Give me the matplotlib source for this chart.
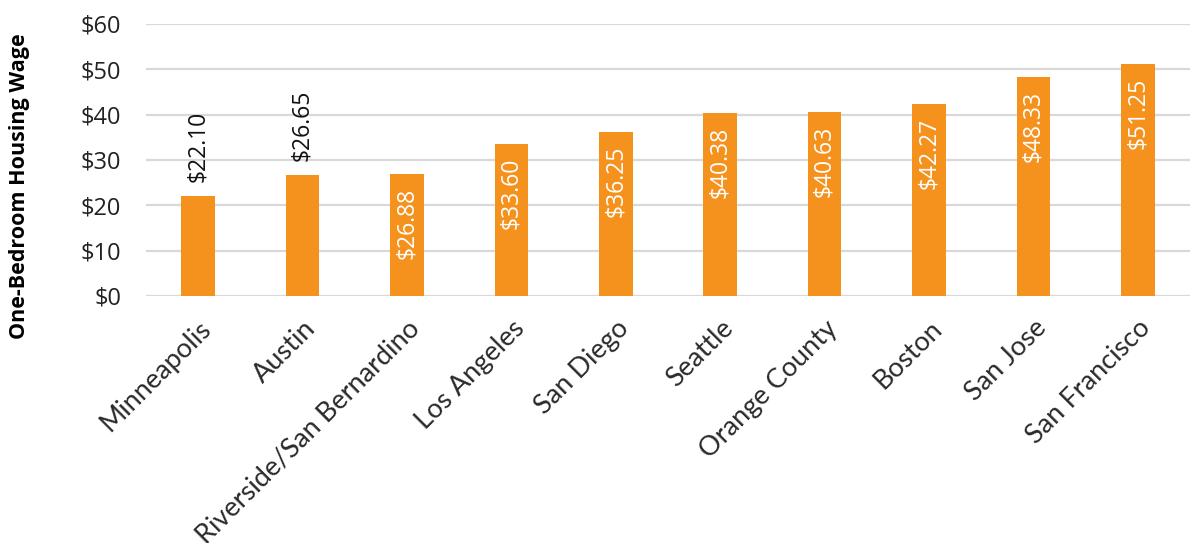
import matplotlib
matplotlib.use("Agg")
import matplotlib.pyplot as plt

cities = ["Minneapolis", "Austin", "Riverside/San Bernardino", "Los Angeles",
          "San Diego", "Seattle", "Orange County", "Boston", "San Jose",
          "San Francisco"]
wages = [22.10, 26.65, 26.88, 33.60, 36.25, 40.38, 40.63, 42.27, 48.33, 51.25]
# Bars whose label sits above the bar instead of inside it
outside_labels = ["Minneapolis", "Austin"]
y_ticks = [0, 10, 20, 30, 40, 50, 60]

bar_color = "#F5921E"
grid_color = "#D9D9D9"
num_font = ["Open Sans", "DejaVu Sans"]

fig = plt.figure(figsize=(11.93, 5.43), dpi=100)
ax = fig.add_axes([146 / 1193, 1 - 296 / 543, (1190 - 146) / 1193, (296 - 24) / 543])

x = range(len(cities))
bars = ax.bar(x, wages, width=0.32, color=bar_color, zorder=3)

ax.set_ylim(0, 60)
ax.set_xlim(-0.5, len(cities) - 0.5)
ax.set_yticks(y_ticks)
ax.set_yticklabels([f"${v}" for v in y_ticks], fontsize=17,
                   family=num_font, color="#222222")
ax.yaxis.grid(True, color=grid_color, linewidth=1.6, zorder=0)
ax.set_axisbelow(True)
for s in ax.spines.values():
    s.set_visible(False)
ax.tick_params(axis="both", length=0)
ax.tick_params(axis="y", pad=18)

ax.set_xticks(list(x))
ax.set_xticklabels(cities, rotation=45, ha="right", va="top",
                   rotation_mode="anchor", fontsize=19.5,
                   family=["Lato", "DejaVu Sans"], color="#2a2a2a")
ax.tick_params(axis="x", pad=14)

ax.set_ylabel("One-Bedroom Housing Wage", fontsize=15.5, fontweight="bold",
              family=num_font)
ax.yaxis.set_label_coords(-0.111, 0.405)

for rect, city, val in zip(bars, cities, wages):
    cx = rect.get_x() + rect.get_width() / 2
    label = f"${val:.2f}"
    if city in outside_labels:
        ax.annotate(label, (cx, val), xytext=(0, 10), textcoords="offset points",
                    rotation=90, ha="center", va="bottom", fontsize=16.5,
                    family=num_font, color="#111111")
    else:
        ax.annotate(label, (cx, val), xytext=(0, -10), textcoords="offset points",
                    rotation=90, ha="center", va="top", fontsize=16.5,
                    family=num_font, color="white")

fig.savefig("out.png", dpi=100)
